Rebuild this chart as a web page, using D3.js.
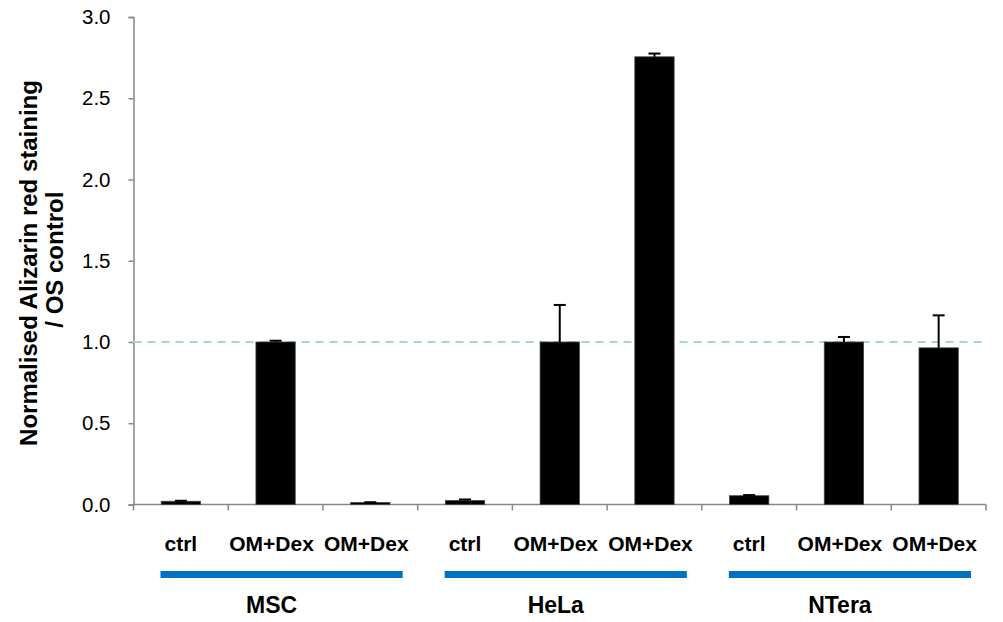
<!DOCTYPE html>
<html><head><meta charset="utf-8">
<script src="https://cdn.jsdelivr.net/npm/d3@7"></script>
<style>body{margin:0;background:#fff}svg{display:block}text{font-family:Arial,"Liberation Sans",sans-serif}</style>
</head><body>
<svg id="c" width="1003" height="622"></svg>
<script>
const groups = ["MSC", "HeLa", "NTera"];
const conditions = ["ctrl", "OM+Dex", "OM+Dex"];
const values = [0.02, 1.0, 0.012, 0.025, 1.0, 2.755, 0.054, 1.0, 0.964];
const errors = [0.003, 0.008, 0.002, 0.006, 0.228, 0.02, 0.004, 0.031, 0.2];
const yTicks = [0, 0.5, 1.0, 1.5, 2.0, 2.5, 3.0];
const refValue = 1.0;

const svg = d3.select("#c");
const x0 = 133.5, x1 = 986, yTop = 17, yBot = 504.5;
const cats = [];
groups.forEach((g, gi) => conditions.forEach((c, ci) => cats.push({g, c, i: gi*3+ci})));
const x = d3.scaleBand().domain(cats.map(d => d.i)).range([x0, x1]).padding(0);
const y = d3.scaleLinear().domain([0, 3]).range([yBot, yTop]);
const bw = x.bandwidth() * 0.415;

// y axis
const yAxis = svg.append("g").attr("transform", `translate(${x0},0)`)
  .call(d3.axisLeft(y).tickValues(yTicks).tickFormat(d3.format(".1f")).tickSize(5).tickPadding(18));
yAxis.select(".domain").attr("stroke", "#888").attr("stroke-width", 1.5);
yAxis.selectAll(".tick line").attr("stroke", "#888").attr("stroke-width", 1.5);
yAxis.selectAll(".tick text").attr("font-size", 20.5).attr("fill", "#000").attr("font-family", "Arial, 'Liberation Sans', sans-serif");

// reference dashed line (behind bars)
svg.append("line").attr("x1", x0).attr("x2", x1).attr("y1", y(refValue)).attr("y2", y(refValue))
  .attr("stroke", "#a5d6d8").attr("stroke-width", 1.8).attr("stroke-dasharray", "8,6");

// x axis line + ticks
const xAxisG = svg.append("g");
xAxisG.append("line").attr("x1", x0).attr("x2", x1).attr("y1", yBot).attr("y2", yBot)
  .attr("stroke", "#888").attr("stroke-width", 1.5);
const boundaries = cats.map(d => x(d.i)).concat([x1]);
xAxisG.selectAll("line.t").data(boundaries).enter().append("line").attr("class", "t")
  .attr("x1", d => d).attr("x2", d => d).attr("y1", yBot).attr("y2", yBot + 6)
  .attr("stroke", "#888").attr("stroke-width", 1.5);

// bars
svg.append("g").selectAll("rect").data(cats).enter().append("rect")
  .attr("x", d => x(d.i) + x.bandwidth()/2 - bw/2)
  .attr("width", bw)
  .attr("y", d => y(values[d.i]))
  .attr("height", d => yBot - y(values[d.i]))
  .attr("fill", "#000").attr("stroke", "#444").attr("stroke-width", 0.8);

// error bars (upper only)
const eb = svg.append("g");
cats.forEach(d => {
  const cx = x(d.i) + x.bandwidth()/2;
  const top = y(values[d.i] + errors[d.i]);
  eb.append("line").attr("x1", cx).attr("x2", cx).attr("y1", y(values[d.i])).attr("y2", top)
    .attr("stroke", "#000").attr("stroke-width", 2);
  eb.append("line").attr("x1", cx - 6).attr("x2", cx + 6).attr("y1", top).attr("y2", top)
    .attr("stroke", "#000").attr("stroke-width", 2);
});

// category labels
svg.append("g").selectAll("text").data(cats).enter().append("text")
  .attr("x", d => x(d.i) + x.bandwidth()/2 - (d.c === "ctrl" ? 0 : 4))
  .attr("y", 551).attr("text-anchor", "middle")
  .attr("font-size", 21).attr("font-weight", "bold").text(d => d.c);

// group lines + labels
groups.forEach((g, gi) => {
  const gx0 = x(gi*3), gx1 = x(gi*3+2) + x.bandwidth();
  svg.append("rect").attr("x", gx0 + 27).attr("width", (gx1 - 15) - (gx0 + 27))
    .attr("y", 571).attr("height", 7).attr("fill", "#0070c0");
  svg.append("text").attr("x", (gx0 + gx1)/2 - 4).attr("y", 613).attr("text-anchor", "middle")
    .attr("font-size", 23).attr("font-weight", "bold").text(g);
});

// y title
const yt = svg.append("text").attr("transform", "translate(0,263) rotate(-90)")
  .attr("text-anchor", "middle").attr("font-size", 24).attr("font-weight", "bold");
yt.append("tspan").attr("x", 0).attr("y", 37).text("Normalised Alizarin red staining");
yt.append("tspan").attr("x", 0).attr("y", 63).text(" / OS control");
</script>
</body></html>
